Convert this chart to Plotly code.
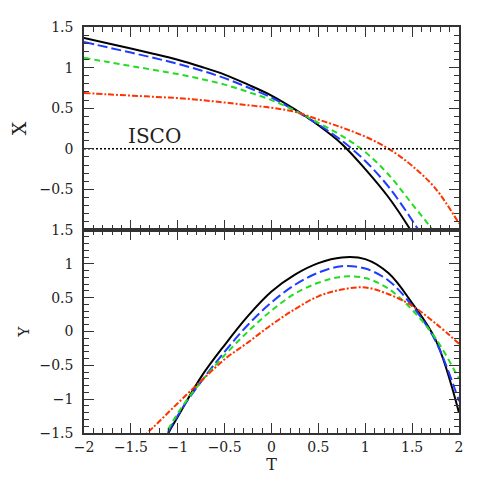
import plotly.graph_objects as go
from plotly.subplots import make_subplots

# T grid for the upper (X) panel and lower (Y) panel
t_top = [-2, -1.75, -1.5, -1.25, -1, -0.75, -0.5, -0.25, 0, 0.25, 0.5, 0.75, 1, 1.25, 1.5, 1.75, 2]
t_bot = [-1.5, -1.25, -1, -0.75, -0.5, -0.25, 0, 0.25, 0.5, 0.75, 1, 1.25, 1.5, 1.75, 2]

# X(T) curves
x_black = [1.364, 1.30, 1.235, 1.168, 1.096, 1.01, 0.914, 0.79, 0.655, 0.485, 0.29, 0.06, -0.25, -0.60, -1.03, -1.52, -2.05]
x_blue = [1.314, 1.25, 1.185, 1.118, 1.046, 0.965, 0.87, 0.755, 0.63, 0.47, 0.30, 0.10, -0.15, -0.47, -0.88, -1.35, -1.90]
x_green = [1.12, 1.07, 1.02, 0.97, 0.92, 0.86, 0.79, 0.70, 0.60, 0.47, 0.32, 0.16, -0.04, -0.32, -0.68, -1.05, -1.50]
x_red = [0.687, 0.671, 0.655, 0.64, 0.625, 0.60, 0.57, 0.537, 0.505, 0.455, 0.36, 0.262, 0.15, 0.0, -0.21, -0.49, -0.92]

# Y(T) curves
y_black = [-2.55, -1.87, -1.26, -0.67, -0.20, 0.23, 0.59, 0.84, 1.01, 1.095, 1.07, 0.86, 0.42, -0.12, -1.2]
y_blue = [-2.6, -1.87, -1.24, -0.74, -0.30, 0.10, 0.43, 0.69, 0.87, 0.965, 0.93, 0.75, 0.38, -0.14, -1.03]
y_green = [-2.5, -1.82, -1.21, -0.74, -0.35, 0.0, 0.31, 0.56, 0.72, 0.81, 0.79, 0.63, 0.32, -0.10, -0.70]
y_red = [-1.73, -1.40, -1.06, -0.73, -0.41, -0.16, 0.10, 0.33, 0.52, 0.62, 0.65, 0.55, 0.38, 0.12, -0.18]

isco = [0, 0]
t_isco = [-2, 2]

styles = [
    ("black", "solid"),
    ("#1f3dff", "10px,4px"),
    ("#22dd22", "6px,4px"),
    ("#ff3300", "6px,2px,2px,2px"),
]

fig = make_subplots(rows=2, cols=1, shared_xaxes=True, vertical_spacing=0)

for ys, (col, dash) in zip([x_black, x_blue, x_green, x_red], styles):
    fig.add_trace(go.Scatter(x=t_top, y=ys, mode="lines", line=dict(color=col, dash=dash, width=2, shape="spline", smoothing=1.0),
                             showlegend=False), row=1, col=1)
fig.add_trace(go.Scatter(x=t_isco, y=isco, mode="lines", line=dict(color="black", dash="2px,2px", width=1.5),
                         showlegend=False), row=1, col=1)
for ys, (col, dash) in zip([y_black, y_blue, y_green, y_red], styles):
    fig.add_trace(go.Scatter(x=t_bot, y=ys, mode="lines", line=dict(color=col, dash=dash, width=2, shape="spline", smoothing=1.0),
                             showlegend=False), row=2, col=1)

font = "DejaVu Serif"
axis_common = dict(showline=True, linecolor="#333", linewidth=1.5, mirror="allticks", ticks="inside", ticklen=10,
                   tickwidth=1.2, tickcolor="#333", showgrid=False, zeroline=False, automargin=False,
                   minor=dict(dtick=0.1, ticks="inside", ticklen=5, tickcolor="#333", tickwidth=1),
                   tickfont=dict(family=font, size=14, color="#222"))

fig.update_xaxes(range=[-2, 2], dtick=0.5, **axis_common)
fig.update_xaxes(showticklabels=False, row=1, col=1)
fig.update_xaxes(tickvals=[-2, -1.5, -1, -0.5, 0, 0.5, 1, 1.5, 2], title=dict(text="T", font=dict(family=font, size=16, color="#222"), standoff=4),
                 row=2, col=1)
fig.update_yaxes(range=[-1, 1.5], tickvals=[-1, -0.5, 0, 0.5, 1, 1.5], ticktext=["", "\u22120.5", "0", "0.5", "1", "1.5"],
                 ticklabelstandoff=6, title=dict(text="X", font=dict(family=font, size=19, color="#222"), standoff=12),
                 row=1, col=1, **axis_common)
fig.update_yaxes(range=[-1.5, 1.5], tickvals=[-1.5, -1, -0.5, 0, 0.5, 1, 1.5], ticklabelstandoff=6,
                 title=dict(text="Y", font=dict(family=font, size=15, color="#222"), standoff=6),
                 row=2, col=1, **axis_common)

fig.add_annotation(x=-1.25, y=0.16, xref="x", yref="y", text="ISCO", showarrow=False,
                   font=dict(family=font, size=20, color="#222"))

# the page body adds an 8px offset, so the figure is drawn a little smaller
fig.update_layout(width=477, height=477, margin=dict(l=76, r=26, t=19, b=52),
                  plot_bgcolor="white", paper_bgcolor="white")

fig.write_html("out.html")
